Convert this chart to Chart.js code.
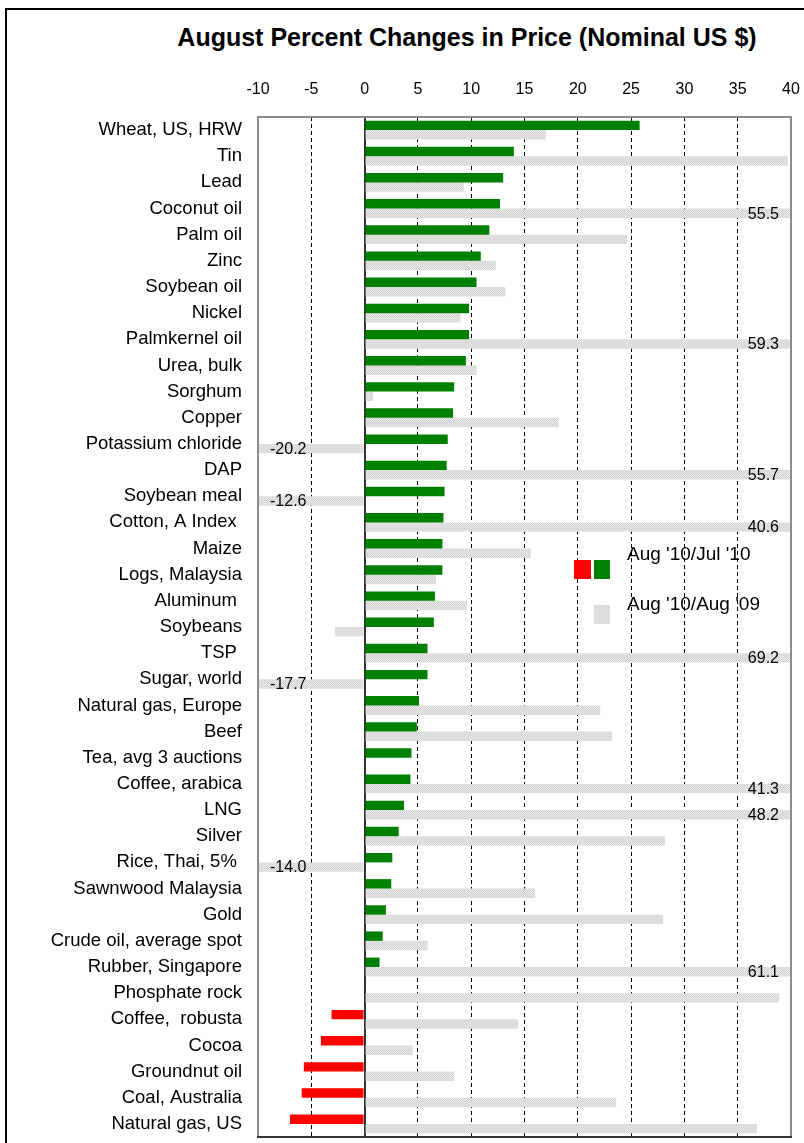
<!DOCTYPE html>
<html>
<head>
<meta charset="utf-8">
<title>August Percent Changes in Price</title>
<script src="https://cdn.jsdelivr.net/npm/chart.js@4.4.0/dist/chart.umd.min.js"></script>
<style>
  body { margin: 0; background: #fff; }
  #wrap { position: relative; width: 804px; height: 1143px; overflow: hidden; }
  #frame { position: absolute; left: 5px; top: 8px; width: 900px; height: 1300px;
           border-top: 2px solid #000; border-left: 2px solid #000; }
  #title { position: absolute; left: 0; top: 22px; width: 934px; text-align: center;
           font: bold 25px/30px 'Liberation Sans', Arial, sans-serif; color: #000; }
  #chart-area { position: absolute; left: 0; top: 0; }
</style>
</head>
<body>
<div id="wrap">
  <div id="frame"></div>
  <div id="title">August Percent Changes in Price (Nominal US $)</div>
  <canvas id="chart-area" width="804" height="1143"></canvas>
</div>
<script>
// categories, top to bottom
var categories = [
  "Wheat, US, HRW", "Tin", "Lead", "Coconut oil", "Palm oil", "Zinc", "Soybean oil",
  "Nickel", "Palmkernel oil", "Urea, bulk", "Sorghum", "Copper", "Potassium chloride",
  "DAP", "Soybean meal", "Cotton, A Index ", "Maize", "Logs, Malaysia", "Aluminum ",
  "Soybeans", "TSP ", "Sugar, world", "Natural gas, Europe", "Beef", "Tea, avg 3 auctions",
  "Coffee, arabica", "LNG", "Silver", "Rice, Thai, 5% ", "Sawnwood Malaysia", "Gold",
  "Crude oil, average spot", "Rubber, Singapore", "Phosphate rock", "Coffee,  robusta",
  "Cocoa", "Groundnut oil", "Coal, Australia", "Natural gas, US"
];

// Aug '10 / Jul '10 (% change)
var augJul = [
  25.8, 14.0, 13.0, 12.7, 11.7, 10.9, 10.5,
  9.8, 9.8, 9.5, 8.4, 8.3, 7.8,
  7.7, 7.5, 7.4, 7.3, 7.3, 6.6,
  6.5, 5.9, 5.9, 5.1, 4.9, 4.4,
  4.3, 3.7, 3.2, 2.6, 2.5, 2.0,
  1.7, 1.4, null, -3.1,
  -4.1, -5.7, -5.9, -7.0
];

// Aug '10 / Aug '09 (% change)
var augAug = [
  17.0, 39.7, 9.3, 55.5, 24.6, 12.3, 13.2,
  9.0, 59.3, 10.5, 0.8, 18.2, -20.2,
  55.7, -12.6, 40.6, 15.6, 6.7, 9.6,
  -2.8, 69.2, -17.7, 22.1, 23.2, null,
  41.3, 48.2, 28.2, -14.0, 16.0, 28.0,
  5.9, 61.1, 38.9, 14.4,
  4.5, 8.4, 23.6, 36.8
];

var xTicks = [-10, -5, 0, 5, 10, 15, 20, 25, 30, 35, 40];
var seriesNames = ["Aug '10/Jul '10", "Aug '10/Aug '09"];

var FONT = "'Liberation Sans', Arial, sans-serif";

// light dotted grey fill like the original
function grayPattern() {
  var c = document.createElement('canvas');
  c.width = 2; c.height = 2;
  var g = c.getContext('2d');
  g.fillStyle = '#e9e9e9'; g.fillRect(0, 0, 2, 2);
  g.fillStyle = '#d2d2d2'; g.fillRect(0, 0, 1, 1); g.fillRect(1, 1, 1, 1);
  return g.createPattern(c, 'repeat');
}

// frame, labels for clipped bars, legend
var extras = {
  id: 'extras',
  afterDatasetsDraw: function(chart) {
    var ctx = chart.ctx, a = chart.chartArea, xs = chart.scales.x;
    ctx.save();

    // plot frame
    ctx.lineWidth = 2;
    ctx.strokeStyle = '#8c8c8c';
    ctx.beginPath();
    ctx.moveTo(a.left, a.bottom); ctx.lineTo(a.left, a.top);
    ctx.lineTo(a.right, a.top); ctx.lineTo(a.right, a.bottom);
    ctx.stroke();
    ctx.strokeStyle = '#333';
    ctx.beginPath();
    ctx.moveTo(a.left - 1, a.bottom); ctx.lineTo(a.right + 1, a.bottom);
    ctx.stroke();

    // values of bars that run off the scale
    var meta = chart.getDatasetMeta(1);
    ctx.font = '16px ' + FONT;
    ctx.fillStyle = '#000';
    ctx.textBaseline = 'middle';
    meta.data.forEach(function(bar, i) {
      var v = augAug[i];
      if (v == null) return;
      if (v > xs.max) {
        ctx.textAlign = 'right';
        ctx.fillText(v.toFixed(1), a.right - 12, bar.y + 1);
      } else if (v < xs.min) {
        ctx.textAlign = 'left';
        ctx.fillText(v.toFixed(1), a.left + 12, bar.y + 1);
      }
    });

    // legend
    var lx = a.left + 316, ly = a.top + 443;
    ctx.fillStyle = '#ff0000'; ctx.fillRect(lx, ly, 17, 19);
    ctx.fillStyle = '#008000'; ctx.fillRect(lx + 20, ly, 16, 19);
    ctx.fillStyle = '#dcdcdc'; ctx.fillRect(lx + 20, ly + 45, 16, 19);
    ctx.fillStyle = '#000';
    ctx.font = '19px ' + FONT;
    ctx.textAlign = 'left';
    ctx.fillText(seriesNames[0], lx + 53, ly - 5);
    ctx.fillText(seriesNames[1], lx + 53, ly + 45);
    ctx.restore();
  }
};

var config = {
  type: 'bar',
  data: {
    labels: categories,
    datasets: [{
      label: seriesNames[0],
      data: augJul,
      backgroundColor: function(c) { return c.raw < 0 ? '#ff0000' : '#008000'; },
      categoryPercentage: 0.72,
      barPercentage: 1.0
    }, {
      label: seriesNames[1],
      data: augAug,
      backgroundColor: grayPattern(),
      categoryPercentage: 0.72,
      barPercentage: 1.0
    }]
  },
  options: {
    indexAxis: 'y',
    responsive: false,
    animation: false,
    layout: { padding: { top: 77, left: 0, right: 13, bottom: 6 } },
    plugins: {
      legend: { display: false },
      title: { display: false },
      tooltip: { enabled: false }
    },
    scales: {
      x: {
        position: 'top',
        min: -10,
        max: 40,
        afterBuildTicks: function(s) { s.ticks = xTicks.map(function(v) { return { value: v }; }); },
        afterFit: function(s) {
          s.height = 40;
          s.paddingLeft = 0;
          s.paddingRight = 0;
        },
        ticks: { color: '#000', font: { family: FONT, size: 16 }, padding: 18 },
        grid: {
          drawTicks: false,
          color: function(c) {
            var v = c.tick ? c.tick.value : null;
            if (v === -10 || v === 40) return 'rgba(0,0,0,0)';
            return v === 0 ? '#333' : '#000';
          },
          lineWidth: function(c) { return c.tick && c.tick.value === 0 ? 2 : 1; }
        },
        border: {
          display: false,
          dash: function(c) { return c.tick && c.tick.value === 0 ? [] : [4, 3]; }
        }
      },
      y: {
        afterFit: function(s) {
          s.width = 258;
          s.paddingTop = 0;
          s.paddingBottom = 0;
        },
        ticks: { color: '#000', font: { family: FONT, size: 18.5 }, padding: 16, autoSkip: false },
        grid: { display: false, drawTicks: false },
        border: { display: false }
      }
    }
  },
  plugins: [extras]
};

window.onload = function() {
  var ctx = document.getElementById('chart-area');
  window.myBar = new Chart(ctx, config);
};
</script>
</body>
</html>
